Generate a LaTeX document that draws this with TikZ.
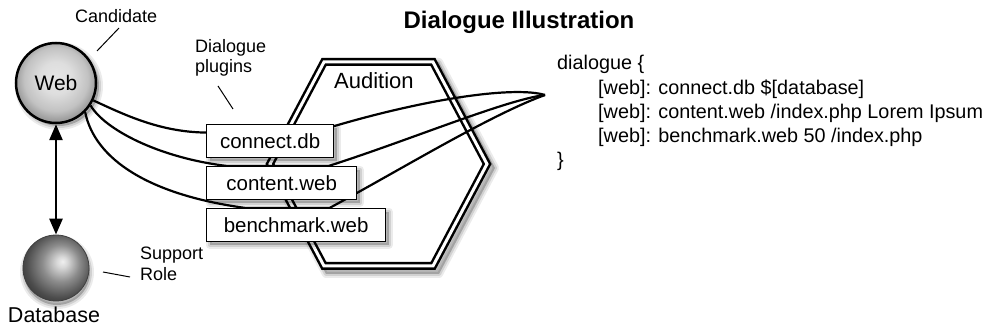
\documentclass[tikz,border=0pt]{standalone}
\usepackage{fontspec}
\setmainfont{Liberation Sans}
\usetikzlibrary{arrows.meta,calc}
\pgfdeclarelayer{back}
\pgfdeclarelayer{mid}
\pgfsetlayers{back,mid,main}
\pgfdeclareradialshading{webshade}{\pgfpoint{0bp}{4bp}}{color(0bp)=(black!10); color(10bp)=(black!13); color(20bp)=(black!24); color(25bp)=(black!38); color(30bp)=(black!45); color(50bp)=(black!45)}
\pgfdeclareradialshading{dbshade}{\pgfpoint{5bp}{5bp}}{color(0bp)=(black!6); color(4bp)=(black!15); color(14bp)=(black!45); color(25bp)=(black!70); color(32bp)=(black!80); color(50bp)=(black!80)}
\tikzset{
  msh/.style={
    preaction={draw=black, draw opacity=0.08, line width=8pt, line join=round, transform canvas={shift={(#1)}}},
    preaction={draw=black, draw opacity=0.11, line width=4pt, line join=round, transform canvas={shift={(#1)}}},
    preaction={fill=black, fill opacity=0.22, transform canvas={shift={(#1)}}}},
  msh/.default={3pt,-3pt},
  lbl/.style={inner sep=0pt, anchor=base west, font=\fontsize{18}{20}\selectfont},
  plug/.style={draw, line width=1.3pt, fill=white, inner sep=0pt, minimum height=33pt,
    anchor=north west, font=\fontsize{20.5}{22}\selectfont, msh={3pt,-3pt}},
  wire/.style={line width=2.2pt},
  leader/.style={line width=1pt},
  code/.style={inner sep=0pt, anchor=base west, font=\fontsize{19.8}{22}\selectfont},
}
\begin{document}
\begin{tikzpicture}[x=1pt,y=-1pt]
\useasboundingbox (0,0) rectangle (986,331);

% title
\node[font=\bfseries\fontsize{24}{28}\selectfont, anchor=base, inner sep=0pt] (title) at (519,29) {Dialogue Illustration};

% hexagon
\begin{pgfonlayer}{back}
\fill[white, msh={4pt,-4pt}] (266,164) -- (322,58) -- (435,58) -- (491,164) -- (435,270) -- (322,270) -- cycle;
\draw[line width=2.5pt, double=white, double distance=3pt, line join=miter]
  (270,164) -- (324,62) -- (433,62) -- (487,164) -- (433,266) -- (324,266) -- cycle;
\end{pgfonlayer}
\node[inner sep=0pt, anchor=base west, font=\fontsize{22}{24}\selectfont] (aud) at (334,89) {Audition};

% web and database
\node[circle, minimum size=80pt, inner sep=0pt, line width=2.5pt, draw, shading=webshade, msh,
  font=\fontsize{21}{24}\selectfont] (web) at (56,83) {Web};
\node[circle, minimum size=66pt, inner sep=0pt, draw=black!75, line width=0.8pt, shading=dbshade,
  msh={1pt,-4pt}] (db) at (56,268) {};
\node[inner sep=0pt, anchor=base, font=\fontsize{21.5}{24}\selectfont] (dblabel) at (54,323) {Database};
\draw[line width=2.7pt, {Triangle[length=16pt,width=13pt]}-{Triangle[length=16pt,width=13pt]}] (web) -- (db);

% labels
\node[lbl] (cand) at (75,23) {Candidate};
\coordinate (candA) at (119,28); \coordinate (candB) at (97,51);
\draw[leader] (candA) -- (candB);
\node[lbl] (plugA) at (195,53) {Dialogue};
\node[lbl] (plugB) at (195,73) {plugins};
\coordinate (plA) at (218,86); \coordinate (plB) at (233,109);
\draw[leader] (plA) -- (plB);
\node[lbl] (supA) at (140,260) {Support};
\node[lbl] (supB) at (140,281) {Role};
\coordinate (suA) at (103,272); \coordinate (suB) at (130,277);
\draw[leader] (suA) -- (suB);

% plugin boxes
\node[plug, minimum width=127pt] (c1) at (206,124) {connect.db};
\node[plug, minimum width=150pt] (c2) at (206,166) {content.web};
\node[plug, minimum width=179pt] (c3) at (206,208) {benchmark.web};

\coordinate (tip) at (545,95);
\coordinate (c1in) at ($(c1.north west)!0.25!(c1.south west)$);
\coordinate (c1out) at ($(c1.north east)!0.06!(c1.south east)$);
\coordinate (c2in) at ($(c2.north west)!0.14!(c2.north east)$);
\coordinate (c2out) at ($(c2.north west)!0.81!(c2.north east)$);
\coordinate (c3in) at ($(c3.north west)!0.22!(c3.north east)$);
\coordinate (c3out) at ($(c3.north west)!0.685!(c3.north east)$);

\begin{pgfonlayer}{mid}
\draw[wire] (web.-25) .. controls (125,115) and (160,132) .. (c1in) -- (c1out)
  .. controls (430,98) and (515,86) .. (tip);
\draw[wire] (web.-33) .. controls (105,130) and (160,158) .. (c2in) -- (c2out)
  .. controls (410,140) and (505,100) .. (tip);
\draw[wire] (web.-45) .. controls (95,160) and (150,195) .. (c3in) -- (c3out)
  .. controls (400,170) and (490,115) .. (tip);
\end{pgfonlayer}

% code
\node[code] (code0) at (557,70) {dialogue \{};
\node[code] (code1) at (598,94.25) {[web]: connect.db \$[database]};
\node[code] (code2) at (598,118.5) {[web]: content.web /index.php Lorem Ipsum};
\node[code] (code3) at (598,142.75) {[web]: benchmark.web 50 /index.php};
\node[code] (code4) at (557,167) {\}};
\end{tikzpicture}
\end{document}
